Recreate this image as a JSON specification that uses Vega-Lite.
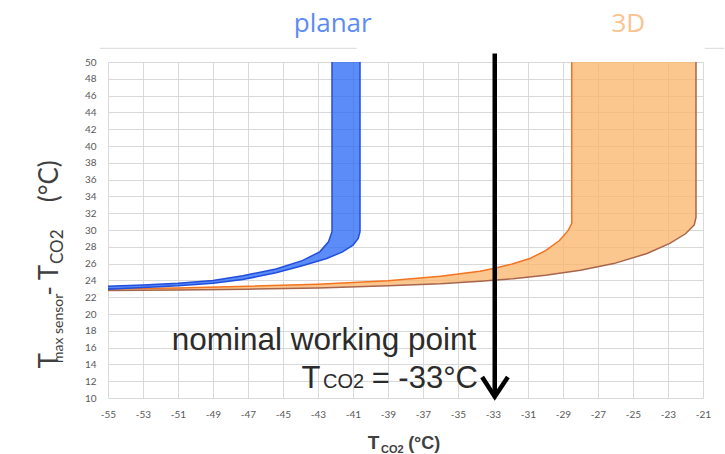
{
  "$schema": "https://vega.github.io/schema/vega-lite/v6.json",
  "width": 595,
  "height": 336,
  "autosize": {"type": "none"},
  "padding": {"left": 108, "top": 62, "right": 22, "bottom": 56},
  "background": "white",
  "config": {
    "view": {"stroke": null},
    "axis": {
      "grid": true, "gridColor": "#d9d9d9", "gridWidth": 1,
      "domain": false, "ticks": false,
      "labelFont": "Lato", "labelFontSize": 10, "labelColor": "#595959",
      "title": null, "labelFlush": false, "labelOverlap": false, "tickCount": 60
    }
  },
  "datasets": {
    "curves": [
      {"band": "planar", "curve": "planar upper", "k": 1, "x": -55, "y": 23.3},
      {"band": "planar", "curve": "planar upper", "k": 2, "x": -53, "y": 23.45},
      {"band": "planar", "curve": "planar upper", "k": 3, "x": -51, "y": 23.65},
      {"band": "planar", "curve": "planar upper", "k": 4, "x": -49, "y": 24.0},
      {"band": "planar", "curve": "planar upper", "k": 5, "x": -47.3, "y": 24.55},
      {"band": "planar", "curve": "planar upper", "k": 6, "x": -45.4, "y": 25.35},
      {"band": "planar", "curve": "planar upper", "k": 7, "x": -43.9, "y": 26.35},
      {"band": "planar", "curve": "planar upper", "k": 8, "x": -42.9, "y": 27.4},
      {"band": "planar", "curve": "planar upper", "k": 9, "x": -42.4, "y": 28.6},
      {"band": "planar", "curve": "planar upper", "k": 10, "x": -42.2, "y": 29.8},
      {"band": "planar", "curve": "planar upper", "k": 11, "x": -42.2, "y": 50},
      {"band": "planar", "curve": "planar lower", "k": 12, "x": -40.6, "y": 50},
      {"band": "planar", "curve": "planar lower", "k": 13, "x": -40.6, "y": 29.8},
      {"band": "planar", "curve": "planar lower", "k": 14, "x": -40.7, "y": 29.0},
      {"band": "planar", "curve": "planar lower", "k": 15, "x": -41.0, "y": 28.2},
      {"band": "planar", "curve": "planar lower", "k": 16, "x": -41.6, "y": 27.4},
      {"band": "planar", "curve": "planar lower", "k": 17, "x": -42.5, "y": 26.6},
      {"band": "planar", "curve": "planar lower", "k": 18, "x": -43.9, "y": 25.75},
      {"band": "planar", "curve": "planar lower", "k": 19, "x": -45.4, "y": 24.9},
      {"band": "planar", "curve": "planar lower", "k": 20, "x": -47.3, "y": 24.1},
      {"band": "planar", "curve": "planar lower", "k": 21, "x": -49, "y": 23.65},
      {"band": "planar", "curve": "planar lower", "k": 22, "x": -51, "y": 23.35},
      {"band": "planar", "curve": "planar lower", "k": 23, "x": -53, "y": 23.15},
      {"band": "planar", "curve": "planar lower", "k": 24, "x": -55, "y": 22.95},
      {"band": "3D", "curve": "3D upper", "k": 1, "x": -55, "y": 23.0},
      {"band": "3D", "curve": "3D upper", "k": 2, "x": -51, "y": 23.1},
      {"band": "3D", "curve": "3D upper", "k": 3, "x": -47, "y": 23.3},
      {"band": "3D", "curve": "3D upper", "k": 4, "x": -43, "y": 23.55},
      {"band": "3D", "curve": "3D upper", "k": 5, "x": -39, "y": 23.95},
      {"band": "3D", "curve": "3D upper", "k": 6, "x": -36, "y": 24.5},
      {"band": "3D", "curve": "3D upper", "k": 7, "x": -33.75, "y": 25.1},
      {"band": "3D", "curve": "3D upper", "k": 8, "x": -32.9, "y": 25.45},
      {"band": "3D", "curve": "3D upper", "k": 9, "x": -31.9, "y": 25.95},
      {"band": "3D", "curve": "3D upper", "k": 10, "x": -30.9, "y": 26.6},
      {"band": "3D", "curve": "3D upper", "k": 11, "x": -30.0, "y": 27.55},
      {"band": "3D", "curve": "3D upper", "k": 12, "x": -29.2, "y": 28.75},
      {"band": "3D", "curve": "3D upper", "k": 13, "x": -28.7, "y": 29.95},
      {"band": "3D", "curve": "3D upper", "k": 14, "x": -28.5, "y": 30.8},
      {"band": "3D", "curve": "3D upper", "k": 15, "x": -28.5, "y": 50},
      {"band": "3D", "curve": "3D lower", "k": 16, "x": -21.4, "y": 50},
      {"band": "3D", "curve": "3D lower", "k": 17, "x": -21.4, "y": 31.5},
      {"band": "3D", "curve": "3D lower", "k": 18, "x": -21.5, "y": 30.6},
      {"band": "3D", "curve": "3D lower", "k": 19, "x": -22.0, "y": 29.55},
      {"band": "3D", "curve": "3D lower", "k": 20, "x": -22.9, "y": 28.4},
      {"band": "3D", "curve": "3D lower", "k": 21, "x": -24.2, "y": 27.2},
      {"band": "3D", "curve": "3D lower", "k": 22, "x": -26.1, "y": 26.0},
      {"band": "3D", "curve": "3D lower", "k": 23, "x": -28.0, "y": 25.2},
      {"band": "3D", "curve": "3D lower", "k": 24, "x": -30.0, "y": 24.6},
      {"band": "3D", "curve": "3D lower", "k": 25, "x": -31.85, "y": 24.2},
      {"band": "3D", "curve": "3D lower", "k": 26, "x": -33.75, "y": 23.9},
      {"band": "3D", "curve": "3D lower", "k": 27, "x": -36, "y": 23.6},
      {"band": "3D", "curve": "3D lower", "k": 28, "x": -39, "y": 23.35},
      {"band": "3D", "curve": "3D lower", "k": 29, "x": -43, "y": 23.1},
      {"band": "3D", "curve": "3D lower", "k": 30, "x": -47, "y": 22.95},
      {"band": "3D", "curve": "3D lower", "k": 31, "x": -51, "y": 22.85},
      {"band": "3D", "curve": "3D lower", "k": 32, "x": -55, "y": 22.8}
    ],
    "arrowhead": [
      {"k": 1, "x": -33.62, "y": 12.5},
      {"k": 2, "x": -32.9, "y": 10.15},
      {"k": 3, "x": -32.15, "y": 12.5}
    ],
    "one": [{}]
  },
  "layer": [
    {
      "data": {"name": "curves"},
      "transform": [{"filter": "datum.band == '3D'"}],
      "mark": {"type": "line", "fill": "#fab46a", "fillOpacity": 0.75, "stroke": "transparent", "strokeWidth": 0},
      "encoding": {
        "x": {"field": "x", "type": "quantitative", "scale": {"domain": [-55, -21], "nice": false, "zero": false},
              "axis": {"values": [-55,-53,-51,-49,-47,-45,-43,-41,-39,-37,-35,-33,-31,-29,-27,-25,-23,-21], "labelPadding": 11, "labelExpr": "'' + datum.value"}},
        "y": {"field": "y", "type": "quantitative", "scale": {"domain": [10, 50], "nice": false, "zero": false},
              "axis": {"values": [10,12,14,16,18,20,22,24,26,28,30,32,34,36,38,40,42,44,46,48,50], "labelPadding": 12, "labelExpr": "'' + datum.value"}},
        "order": {"field": "k", "type": "quantitative"}
      }
    },
    {
      "data": {"name": "curves"},
      "transform": [{"filter": "datum.band == '3D'"}],
      "mark": {"type": "line", "strokeWidth": 1.5},
      "encoding": {
        "x": {"field": "x", "type": "quantitative", "scale": {"domain": [-55, -21]}},
        "y": {"field": "y", "type": "quantitative", "scale": {"domain": [10, 50]}},
        "detail": {"field": "curve"},
        "color": {"field": "curve", "scale": {"domain": ["3D upper", "3D lower", "planar upper", "planar lower"], "range": ["#f4731f", "#a8654c", "#1f4fdc", "#1f4fdc"]}, "legend": null},
        "order": {"field": "k", "type": "quantitative"}
      }
    },
    {
      "data": {"name": "curves"},
      "transform": [{"filter": "datum.band == 'planar'"}],
      "mark": {"type": "line", "fill": "#2466f6", "fillOpacity": 0.75, "stroke": "transparent", "strokeWidth": 0},
      "encoding": {
        "x": {"field": "x", "type": "quantitative", "scale": {"domain": [-55, -21]}},
        "y": {"field": "y", "type": "quantitative", "scale": {"domain": [10, 50]}},
        "order": {"field": "k", "type": "quantitative"}
      }
    },
    {
      "data": {"name": "curves"},
      "transform": [{"filter": "datum.band == 'planar'"}],
      "mark": {"type": "line", "strokeWidth": 1.5},
      "encoding": {
        "x": {"field": "x", "type": "quantitative", "scale": {"domain": [-55, -21]}},
        "y": {"field": "y", "type": "quantitative", "scale": {"domain": [10, 50]}},
        "detail": {"field": "curve"},
        "color": {"field": "curve", "scale": {"domain": ["3D upper", "3D lower", "planar upper", "planar lower"], "range": ["#f4731f", "#a8654c", "#1f4fdc", "#1f4fdc"]}, "legend": null},
        "order": {"field": "k", "type": "quantitative"}
      }
    },
    {
      "data": {"name": "one"},
      "mark": {"type": "rule", "color": "#d9d9d9", "strokeWidth": 1},
      "encoding": {
        "x": {"datum": -55.47, "scale": {"domain": [-55, -21]}},
        "x2": {"datum": -40.79},
        "y": {"datum": 51.63, "scale": {"domain": [10, 50]}}
      }
    },
    {
      "data": {"name": "one"},
      "mark": {"type": "rule", "color": "#d9d9d9", "strokeWidth": 1},
      "encoding": {
        "x": {"datum": -20.9, "scale": {"domain": [-55, -21]}},
        "x2": {"datum": -19.8},
        "y": {"datum": 51.63, "scale": {"domain": [10, 50]}}
      }
    },
    {
      "data": {"name": "one"},
      "mark": {"type": "rule", "color": "black", "strokeWidth": 4.5},
      "encoding": {
        "x": {"datum": -32.9, "scale": {"domain": [-55, -21]}},
        "y": {"datum": 51, "scale": {"domain": [10, 50]}},
        "y2": {"datum": 10.6}
      }
    },
    {
      "data": {"name": "arrowhead"},
      "mark": {"type": "line", "color": "black", "strokeWidth": 4.5, "strokeJoin": "miter", "strokeCap": "butt"},
      "encoding": {
        "x": {"field": "x", "type": "quantitative", "scale": {"domain": [-55, -21]}},
        "y": {"field": "y", "type": "quantitative", "scale": {"domain": [10, 50]}},
        "order": {"field": "k", "type": "quantitative"}
      }
    },
    {
      "data": {"name": "one"},
      "mark": {"type": "text", "text": "nominal working point", "font": "Liberation Sans", "fontSize": 31.5, "color": "#2b2b2b", "align": "right", "baseline": "alphabetic"},
      "encoding": {"x": {"datum": -33.95, "scale": {"domain": [-55, -21]}}, "y": {"datum": 15.76, "scale": {"domain": [10, 50]}}}
    },
    {
      "data": {"name": "one"},
      "mark": {"type": "text", "text": "T", "font": "Liberation Sans", "fontSize": 31, "color": "#2b2b2b", "align": "left", "baseline": "alphabetic"},
      "encoding": {"x": {"datum": -43.95, "scale": {"domain": [-55, -21]}}, "y": {"datum": 11.24, "scale": {"domain": [10, 50]}}}
    },
    {
      "data": {"name": "one"},
      "mark": {"type": "text", "text": "CO2", "font": "Liberation Sans", "fontSize": 20, "color": "#2b2b2b", "align": "left", "baseline": "alphabetic"},
      "encoding": {"x": {"datum": -42.71, "scale": {"domain": [-55, -21]}}, "y": {"datum": 11.24, "scale": {"domain": [10, 50]}}}
    },
    {
      "data": {"name": "one"},
      "mark": {"type": "text", "text": "= -33°C", "font": "Liberation Sans", "fontSize": 31, "color": "#2b2b2b", "align": "right", "baseline": "alphabetic"},
      "encoding": {"x": {"datum": -33.86, "scale": {"domain": [-55, -21]}}, "y": {"datum": 11.24, "scale": {"domain": [10, 50]}}}
    },
    {
      "data": {"name": "one"},
      "mark": {"type": "text", "text": "planar", "font": "Open Sans", "fontSize": 26, "color": "#5b8cf5", "align": "center", "baseline": "alphabetic"},
      "encoding": {"x": {"datum": -42.16, "scale": {"domain": [-55, -21]}}, "y": {"datum": 53.57, "scale": {"domain": [10, 50]}}}
    },
    {
      "data": {"name": "one"},
      "mark": {"type": "text", "text": "3D", "font": "Open Sans", "fontSize": 26, "color": "#fac38f", "align": "center", "baseline": "alphabetic"},
      "encoding": {"x": {"datum": -25.27, "scale": {"domain": [-55, -21]}}, "y": {"datum": 53.57, "scale": {"domain": [10, 50]}}}
    },
    {
      "data": {"name": "one"},
      "mark": {"type": "text", "text": "T", "font": "Liberation Sans", "fontWeight": "bold", "fontSize": 19, "color": "#404040", "align": "center", "baseline": "alphabetic"},
      "encoding": {"x": {"datum": -39.82, "scale": {"domain": [-55, -21]}}, "y": {"datum": 3.95, "scale": {"domain": [10, 50]}}}
    },
    {
      "data": {"name": "one"},
      "mark": {"type": "text", "text": "CO2", "font": "Liberation Sans", "fontWeight": "bold", "fontSize": 11, "color": "#404040", "align": "left", "baseline": "alphabetic"},
      "encoding": {"x": {"datum": -39.4, "scale": {"domain": [-55, -21]}}, "y": {"datum": 3.42, "scale": {"domain": [10, 50]}}}
    },
    {
      "data": {"name": "one"},
      "mark": {"type": "text", "text": "(°C)", "font": "Liberation Sans", "fontWeight": "bold", "fontSize": 18, "color": "#404040", "align": "left", "baseline": "alphabetic"},
      "encoding": {"x": {"datum": -37.85, "scale": {"domain": [-55, -21]}}, "y": {"datum": 3.95, "scale": {"domain": [10, 50]}}}
    },
    {
      "data": {"name": "one"},
      "mark": {"type": "text", "text": "T", "font": "Lato", "fontSize": 26, "color": "#404040", "align": "center", "baseline": "alphabetic", "angle": 270},
      "encoding": {"x": {"datum": -57.87, "scale": {"domain": [-55, -21]}}, "y": {"datum": 14.43, "scale": {"domain": [10, 50]}}}
    },
    {
      "data": {"name": "one"},
      "mark": {"type": "text", "text": "max sensor", "font": "Lato", "fontSize": 14, "color": "#404040", "align": "center", "baseline": "alphabetic", "angle": 270},
      "encoding": {"x": {"datum": -57.59, "scale": {"domain": [-55, -21]}}, "y": {"datum": 18.3, "scale": {"domain": [10, 50]}}}
    },
    {
      "data": {"name": "one"},
      "mark": {"type": "text", "text": "- T", "font": "Lato", "fontSize": 26, "color": "#404040", "align": "center", "baseline": "alphabetic", "angle": 270},
      "encoding": {"x": {"datum": -57.87, "scale": {"domain": [-55, -21]}}, "y": {"datum": 24.0, "scale": {"domain": [10, 50]}}}
    },
    {
      "data": {"name": "one"},
      "mark": {"type": "text", "text": "CO2", "font": "Lato", "fontSize": 17, "color": "#404040", "align": "center", "baseline": "alphabetic", "angle": 270},
      "encoding": {"x": {"datum": -57.59, "scale": {"domain": [-55, -21]}}, "y": {"datum": 28.0, "scale": {"domain": [10, 50]}}}
    },
    {
      "data": {"name": "one"},
      "mark": {"type": "text", "text": "(°C)", "font": "Lato", "fontSize": 26, "color": "#404040", "align": "center", "baseline": "alphabetic", "angle": 270},
      "encoding": {"x": {"datum": -57.87, "scale": {"domain": [-55, -21]}}, "y": {"datum": 35.8, "scale": {"domain": [10, 50]}}}
    }
  ]
}
